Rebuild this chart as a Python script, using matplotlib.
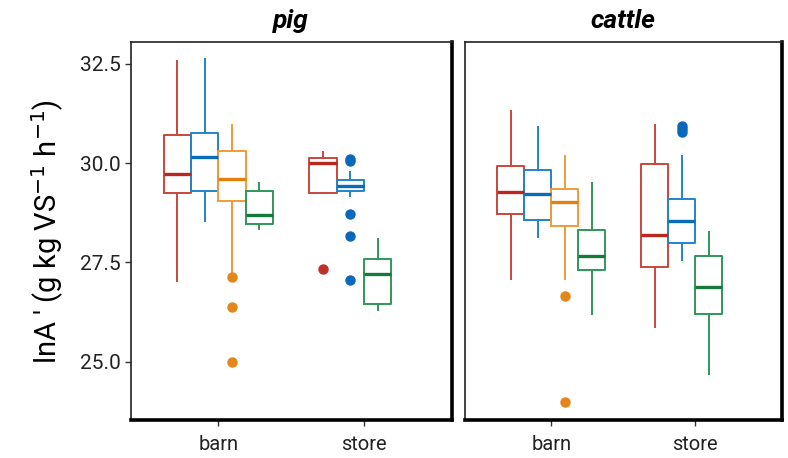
import numpy as np
import matplotlib.pyplot as plt

facets = ["pig", "cattle"]
locations = ["barn", "store"]
groups = ["g1", "g2", "g3", "g4"]

# five-number summaries: (whislo, q1, med, q3, whishi)
# None = group not present at that location
pig_barn = [(27.04, 29.24, 29.72, 30.70, 32.57),
            (28.54, 29.29, 30.15, 30.75, 32.61),
            (27.23, 29.05, 29.61, 30.31, 30.95),
            (28.35, 28.46, 28.69, 29.29, 29.49)]
pig_barn_fliers = [[], [], [27.14, 26.37, 25.00], []]

pig_store = [(29.24, 29.24, 30.01, 30.13, 30.27),
             (29.18, 29.30, 29.43, 29.58, 29.77),
             None,
             (26.31, 26.45, 27.22, 27.58, 28.08)]
pig_store_fliers = [[27.34], [30.05, 30.10, 28.71, 28.17, 27.05], [], []]

cattle_barn = [(27.09, 28.71, 29.26, 29.92, 31.31),
               (28.15, 28.56, 29.22, 29.83, 30.91),
               (27.09, 28.42, 29.03, 29.34, 30.18),
               (26.21, 27.31, 27.66, 28.32, 29.49)]
cattle_barn_fliers = [[], [], [26.66, 23.99], []]

cattle_store = [(25.87, 27.39, 28.20, 29.97, 30.95),
                (27.56, 27.98, 28.54, 29.09, 30.18),
                None,
                (24.70, 26.21, 26.88, 27.67, 28.27)]
cattle_store_fliers = [[], [30.78, 30.86, 30.92], [], []]

data = {
    "pig": [(pig_barn, pig_barn_fliers), (pig_store, pig_store_fliers)],
    "cattle": [(cattle_barn, cattle_barn_fliers), (cattle_store, cattle_store_fliers)],
}

edge_cols = ["#C9483C", "#2583C9", "#EE9C38", "#30965A"]
med_cols = ["#B8281E", "#0A6CB8", "#E0800F", "#177A3D"]
pt_cols = ["#C0302A", "#0A68BA", "#E3861C", "#177A3D"]

plt.rcParams["font.family"] = ["Roboto", "DejaVu Sans"]

fig = plt.figure(figsize=(7.88, 4.58), dpi=100)
axes = [fig.add_axes([0.166, 0.083, 0.407, 0.825]),
        fig.add_axes([0.590, 0.083, 0.402, 0.825])]

offsets = [-0.281, -0.094, 0.094, 0.281]
width = 0.1875

for ax, facet in zip(axes, facets):
    for li, (stats, fliers) in enumerate(data[facet]):
        slot = 0
        for gi, st in enumerate(stats):
            if st is None:
                continue
            lo, q1, med, q3, hi = st
            d = dict(whislo=lo, q1=q1, med=med, q3=q3, whishi=hi, fliers=fliers[gi])
            ax.bxp([d], positions=[li + 1 + offsets[slot]], widths=width,
                   showcaps=False,
                   boxprops=dict(color=edge_cols[gi], lw=1.4),
                   whiskerprops=dict(color=edge_cols[gi], lw=1.4),
                   medianprops=dict(color=med_cols[gi], lw=2.4),
                   flierprops=dict(marker="o", markersize=6.5, markerfacecolor=pt_cols[gi],
                                   markeredgecolor=pt_cols[gi]))
            slot += 1
    ax.set_xlim(0.4, 2.6)
    ax.set_ylim(23.54, 33.04)
    ax.set_xticks([1, 2])
    ax.set_xticklabels(locations, fontsize=14.5, color="#222222")
    ax.set_yticks([25.0, 27.5, 30.0, 32.5])
    ax.set_title(facet, fontsize=19, fontweight="bold", fontstyle="italic", pad=10)
    ax.tick_params(axis="x", length=4, width=1, color="#333333", pad=7)
    for side in ["top", "left"]:
        ax.spines[side].set_linewidth(1.2)
        ax.spines[side].set_color("#222222")
    for side in ["bottom", "right"]:
        ax.spines[side].set_linewidth(2.6)

axes[0].set_yticklabels(["25.0", "27.5", "30.0", "32.5"], fontsize=15, color="#222222")
axes[0].tick_params(axis="y", length=4, width=1, color="#333333", pad=3)
axes[0].set_ylabel("lnA ' (g kg VS$^{-1}$ h$^{-1}$)", fontsize=21, labelpad=10)
axes[1].tick_params(axis="y", left=False, labelleft=False)

fig.savefig("out.png", dpi=100)
